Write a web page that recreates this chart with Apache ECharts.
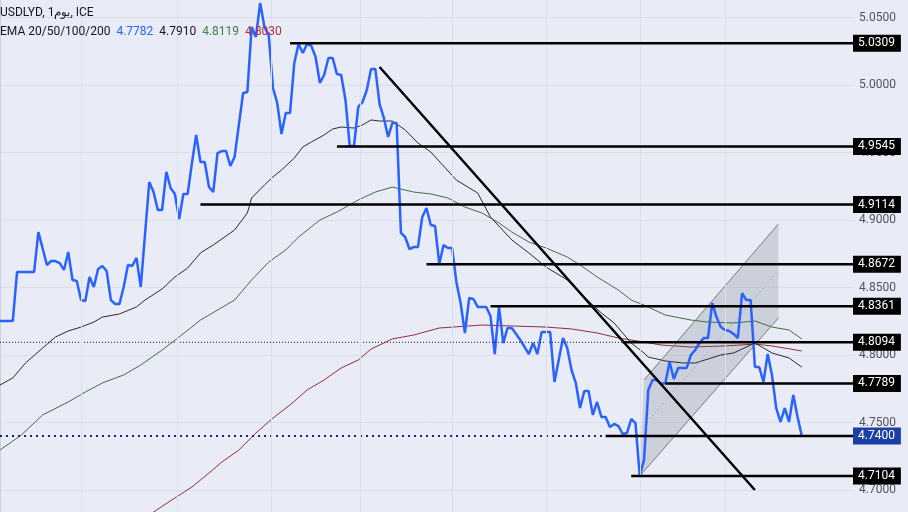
<!DOCTYPE html>
<html>
<head>
<meta charset="utf-8">
<title>USDLYD</title>
<script src="https://cdn.jsdelivr.net/npm/echarts@6/dist/echarts.min.js"></script>
<style>
html, body { margin: 0; padding: 0; background: #e9ecf6; }
#chart { width: 908px; height: 512px; }
</style>
</head>
<body>
<div id="chart"></div>
<script>
// daily close, [bar index, price]
const close = [
  [0,4.8252],[3,4.8252],[4,4.8615],[8,4.8615],[9,4.8911],[11,4.8667],[12,4.8696],[13,4.8696],[14,4.8681],[15,4.8630],
  [16,4.8763],[17,4.8556],[18,4.8548],[19,4.8407],[20,4.8400],[21,4.8578],[22,4.8504],[23,4.8637],[24,4.8659],[25,4.8622],
  [26,4.8407],[27,4.8378],[28,4.8378],[29,4.8504],[30,4.8667],[31,4.8659],[32,4.8719],[33,4.8504],[35,4.9281],[36,4.9207],
  [37,4.9074],[38,4.9074],[39,4.9356],[40,4.9237],[41,4.9193],[42,4.9007],[43,4.9193],[44,4.9193],[45,4.9422],[46,4.9630],
  [47,4.9430],[48,4.9430],[49,4.9244],[50,4.9207],[51,4.9496],[52,4.9511],[53,4.9511],[54,4.9400],[55,4.9467],[57,4.9941],
  [58,4.9948],[59,5.0430],[60,5.0356],[61,5.0607],[62,5.0430],[63,5.0370],[64,4.9978],[65,4.9867],[66,4.9637],[67,4.9793],
  [68,4.9793],[69,5.0163],[70,5.0304],[71,5.0237],[72,5.0304],[73,5.0289],[74,5.0207],[75,5.0015],[76,5.0074],[77,5.0200],
  [78,5.0200],[79,5.0081],[80,5.0074],[81,4.9889],[82,4.9548],[83,4.9548],[84,4.9837],[85,4.9874],[86,4.9963],[87,5.0119],
  [88,5.0119],[89,4.9859],[90,4.9756],[91,4.9615],[92,4.9719],[93,4.9719],[94,4.8904],[95,4.8874],[96,4.8785],[97,4.8800],
  [98,4.8800],[99,4.9022],[100,4.9089],[101,4.8963],[102,4.8956],[103,4.8674],[104,4.8815],[105,4.8793],[106,4.8793],[107,4.8541],
  [108,4.8385],[109,4.8163],[110,4.8422],[111,4.8415],[112,4.8356],[114,4.8356],[115,4.8289],[116,4.8007],[117,4.8356],[118,4.8089],
  [119,4.8200],[120,4.8200],[122,4.8111],[124,4.8007],[125,4.8089],[126,4.8007],[127,4.8170],[129,4.8170],[130,4.7800],[132,4.8126],
  [133,4.8052],[134,4.7889],[135,4.7793],[136,4.7607],[137,4.7733],[138,4.7733],[139,4.7556],[140,4.7652],[141,4.7541],[142,4.7541],
  [143,4.7467],[144,4.7489],[145,4.7474],[146,4.7415],[147,4.7422],[148,4.7526],[149,4.7496],[150,4.7104],[151,4.7222],[152,4.7741],
  [153,4.7815],[154,4.7815],[155,4.7785],[156,4.7793],[157,4.7948],[158,4.7822],[159,4.7904],[161,4.7904],[162,4.8000],[163,4.8037],
  [164,4.8089],[165,4.8126],[166,4.8126],[167,4.8385],[168,4.8281],[169,4.8207],[170,4.8185],[171,4.8178],[172,4.8156],[173,4.8126],
  [174,4.8459],[175,4.8407],[176,4.8407],[177,4.7911],[178,4.7911],[179,4.7800],[180,4.8007],[181,4.7852],[182,4.7607],[183,4.7504],
  [184,4.7607],[185,4.7504],[186,4.7704],[187,4.7541],[188,4.7400]
]

const ema50 = [
  [0,4.7778],[3,4.7830],[6,4.7941],[10,4.8052],[13,4.8133],[16,4.8178],[19,4.8207],[22,4.8244],[24,4.8281],[28,4.8304],
  [32,4.8356],[34,4.8407],[38,4.8489],[41,4.8578],[44,4.8644],[47,4.8756],[50,4.8815],[55,4.8926],[58,4.9052],[59,4.9163],
  [62,4.9259],[64,4.9319],[66,4.9370],[69,4.9459],[71,4.9541],[73,4.9578],[76,4.9630],[78,4.9674],[80,4.9689],[83,4.9681],
  [85,4.9704],[87,4.9741],[89,4.9733],[92,4.9733],[95,4.9667],[98,4.9570],[101,4.9504],[107,4.9296],[112,4.9200],[115,4.9022],
  [120,4.8852],[124,4.8756],[128,4.8652],[133,4.8556],[136,4.8459],[141,4.8311],[144,4.8237],[148,4.8089],[151,4.8015],[152,4.7985],
  [156,4.7956],[160,4.7941],[163,4.7941],[166,4.7970],[169,4.8000],[172,4.8015],[174,4.8044],[177,4.8089],[179,4.8052],[181,4.8015],
  [185,4.7978],[188,4.7910]
]

const ema100 = [
  [0,4.7296],[5,4.7407],[10,4.7556],[16,4.7652],[20,4.7726],[24,4.7793],[29,4.7852],[33,4.7926],[38,4.8037],[42,4.8133],
  [47,4.8259],[55,4.8407],[59,4.8556],[63,4.8689],[67,4.8778],[70,4.8874],[75,4.9000],[79,4.9059],[84,4.9148],[88,4.9207],
  [92,4.9244],[97,4.9207],[101,4.9193],[105,4.9163],[109,4.9096],[113,4.9052],[117,4.8978],[120,4.8911],[124,4.8837],[128,4.8793],
  [133,4.8726],[136,4.8667],[140,4.8578],[145,4.8481],[148,4.8407],[151,4.8370],[156,4.8296],[162,4.8259],[166,4.8244],[172,4.8237],
  [177,4.8252],[181,4.8207],[185,4.8185],[188,4.8119]
]

const ema200 = [
  [29,4.6667],[36,4.6837],[41,4.6941],[45,4.7022],[49,4.7126],[52,4.7207],[56,4.7296],[60,4.7422],[64,4.7533],[68,4.7630],
  [72,4.7741],[76,4.7815],[80,4.7904],[84,4.7963],[87,4.8044],[92,4.8119],[97,4.8148],[103,4.8200],[113,4.8222],[120,4.8215],
  [128,4.8207],[134,4.8193],[140,4.8163],[145,4.8126],[151,4.8096],[155,4.8074],[162,4.8059],[170,4.8067],[177,4.8081],[181,4.8067],
  [188,4.8030]
]

// horizontal levels and the bar where each one starts
const levels = [5.0309, 4.9545, 4.9114, 4.8672, 4.8361, 4.8094, 4.7789, 4.7400, 4.7104]
const levelStart = [68, 79, 47, 100, 115, 146, 156, 142, 148]
const lastPrice = 4.7400
const dottedLevels = [4.8094, 4.7400]

const trendLine = [[89, 5.0133], [177, 4.7000]]
const channelUpper = [[151, 4.7815], [182.5, 4.8970]]
const channelLower = [[150, 4.7104], [182.5, 4.8274]]
const channelMid = [[150.5, 4.7459], [182.5, 4.8622]]

// month separators (bar index)
const monthStarts = [19, 41.5, 63.5, 84.5, 106, 128, 150, 170]

const emaNames = 'EMA 20/50/100/200'
const emaValues = ['4.7782', '4.7910', '4.8119', '4.8030']

const FONT = 'Roboto'

const chart = echarts.init(document.getElementById('chart'))

function line(data, color, width, z, extra) {
  return Object.assign({
    type: 'line',
    data: data,
    symbol: 'none',
    silent: true,
    z: z,
    lineStyle: { color: color, width: width }
  }, extra || {})
}

const series = []

// month grid lines
series.push({
  type: 'line',
  data: [],
  z: 0,
  silent: true,
  markLine: {
    symbol: ['none', 'none'],
    silent: true,
    label: { show: false },
    lineStyle: { color: '#dadfec', width: 1, type: 'solid' },
    data: monthStarts.map(d => ({ xAxis: d }))
  }
})

// channel fill
const channelPoly = [channelUpper[0], channelUpper[1], channelLower[1], channelLower[0]]
series.push({
  type: 'custom',
  z: 1,
  silent: true,
  data: [channelPoly[0]],
  renderItem: (params, api) => ({
    type: 'polygon',
    shape: { points: channelPoly.map(p => api.coord(p)) },
    style: { fill: 'rgba(120,123,140,0.25)' }
  })
})

// EMAs
series.push(line(ema200, '#8e2f3f', 1, 2))
series.push(line(ema100, '#3f6f43', 1, 2))
series.push(line(ema50, '#2b2b2b', 1, 2))

// channel borders
series.push(line(channelUpper, '#787b86', 1, 2))
series.push(line(channelLower, '#787b86', 1, 2))
series.push(line(channelMid, '#7d8fd6', 1, 2, { lineStyle: { color: '#7d8fd6', width: 1, type: [1, 3] } }))

// price
series.push(line(close, '#2962ff', 2.5, 3))

// dotted full width lines
series.push(line([[0, dottedLevels[0]], [200, dottedLevels[0]]], '#131722', 1, 4,
  { lineStyle: { color: '#131722', width: 1, type: [1, 2] } }))
series.push(line([[0, dottedLevels[1]], [200, dottedLevels[1]]], '#1a237e', 2, 4,
  { lineStyle: { color: '#1a237e', width: 2, type: [2, 4] } }))

// level lines with price tags
levels.forEach((lv, i) => {
  series.push(line([[levelStart[i], lv], [200, lv]], '#000', 2.5, 5, {
    endLabel: {
      show: true,
      formatter: () => lv.toFixed(4),
      distance: 0,
      color: '#fff',
      fontFamily: FONT,
      fontSize: 12,
      padding: [3, 6, 2, 5],
      backgroundColor: lv === lastPrice ? '#1c3fa5' : '#000'
    }
  }))
})

// trend line
series.push(line(trendLine, '#000', 2.5, 5))

chart.setOption({
  backgroundColor: '#e9ecf6',
  animation: false,
  textStyle: { fontFamily: FONT },
  title: [
    {
      text: 'USDLYD, 1يوم, ICE',
      left: 0, top: 7, padding: 0,
      textStyle: { fontFamily: FONT, fontSize: 12, fontWeight: 'normal', color: '#131722' }
    },
    {
      text: '{k|' + emaNames + '}  {b|' + emaValues[0] + '}  {k|' + emaValues[1] + '}  {g|' + emaValues[2] + '}  {r|' + emaValues[3] + '}',
      left: 0, top: 26, padding: 0,
      textStyle: {
        fontFamily: FONT, fontSize: 12, fontWeight: 'normal',
        rich: {
          k: { color: '#131722', fontSize: 12, fontFamily: FONT },
          b: { color: '#2962ff', fontSize: 12, fontFamily: FONT },
          g: { color: '#3f7f45', fontSize: 12, fontFamily: FONT },
          r: { color: '#b2323c', fontSize: 12, fontFamily: FONT }
        }
      }
    }
  ],
  grid: { left: 0, right: 55, top: -50, bottom: -45.5, outerBoundsMode: 'none', containLabel: false },
  xAxis: {
    type: 'value',
    min: 0,
    max: 200,
    axisLine: { show: false },
    axisTick: { show: false },
    axisLabel: { show: false },
    splitLine: { show: false }
  },
  yAxis: {
    type: 'value',
    position: 'right',
    min: 4.65,
    max: 5.10,
    interval: 0.05,
    axisLine: { show: true, lineStyle: { color: '#cdd1dc', width: 1 } },
    axisTick: { show: false },
    axisLabel: {
      color: '#50535e',
      fontSize: 12,
      fontFamily: FONT,
      margin: 6,
      formatter: v => v.toFixed(4)
    },
    splitLine: { lineStyle: { color: '#dadfec', width: 1 } }
  },
  series: series
})
</script>
</body>
</html>
